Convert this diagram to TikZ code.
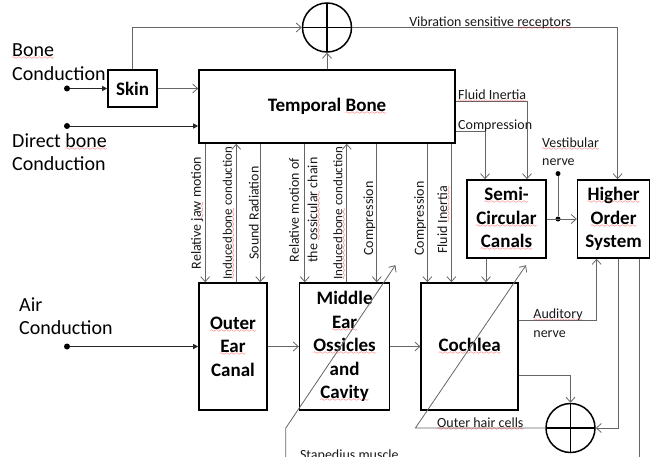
\documentclass[tikz,border=0pt]{standalone}
\usepackage{fontspec}
\setmainfont{Carlito}
\usepackage{tikz}
\usetikzlibrary{arrows.meta, positioning}
\font\wavefnt=lasy6
\newsavebox\splbox
\newcommand\spl[1]{\sbox\splbox{#1}%
  \rlap{\lower3pt\hbox to \wd\splbox{\color{red}\xleaders\hbox{\wavefnt\char58}\hfil}}\usebox\splbox}
\tikzset{
  blockbox/.style={rectangle, draw=black, line width=1.6pt, fill=white, align=center,
    font=\fontsize{19}{23.5}\selectfont\bfseries, inner sep=1pt},
  sumnode/.style={circle, draw=black, line width=1.5pt, fill=white, minimum size=49pt, inner sep=0pt,
    path picture={\draw[line width=1.5pt] (path picture bounding box.north) -- (path picture bounding box.south)
      (path picture bounding box.west) -- (path picture bounding box.east);}},
  inlabel/.style={align=left, font=\fontsize{20}{23.5}\selectfont, inner sep=0pt, anchor=west},
  siglabel/.style={font=\fontsize{14}{18.5}\selectfont, inner sep=1pt, text=black!90},
  vlabel/.style={siglabel, rotate=90, anchor=south},
  tightlabel/.style={vlabel, font=\fontsize{13}{16}\selectfont},
  indot/.style={circle, fill=black, inner sep=0pt, minimum size=6pt},
  line/.style={line width=0.8pt, black!60},
  arrow/.style={line, -{Straight Barb[length=5pt, width=9pt]}},
  feed/.style={line width=0.9pt, black!85, -{Triangle[length=5pt, width=5pt]}}
}
\begin{document}
\begin{tikzpicture}[x=1pt, y=-1pt, node distance=30pt, every node/.style={align=center}]
  \useasboundingbox (0,0) rectangle (650,457);
  % blocks
  \node[sumnode]  (sumtop)   at (327,27.5) {};
  \node[blockbox, minimum width=49pt, minimum height=37pt]  (skin)     at (132.5,88.5) {Skin};
  \node[blockbox, minimum width=256pt, minimum height=73pt] (temporal) at (327,106.5) {Temporal \spl{Bone}};
  \node[blockbox, minimum width=79pt, minimum height=78pt]  (semi)     at (506.5,219)
        {\spl{Semi-}\\\spl{Circular}\\\spl{Canals}};
  \node[blockbox, minimum width=72pt, minimum height=78pt, right=of semi] (higher)
        {\spl{Higher}\\\spl{Order}\\System};
  \node[blockbox, minimum width=68pt, minimum height=127pt] (outer)    at (233,346.5)
        {\spl{Outer}\\\spl{Ear}\\Canal};
  \node[blockbox, minimum width=90pt, minimum height=127pt, right=31pt of outer] (middle)
        {Middle\\\spl{Ear}\\\spl{Ossicles}\\and\\\spl{Cavity}};
  \node[blockbox, minimum width=97pt, minimum height=127pt, right=of middle] (cochlea) {\spl{Cochlea}};
  \node[sumnode]  (sumbot)   at (570.5,428) {};
  % inputs
  \node[indot] (bcin)  at (67,88.5) {};
  \node[indot] (dbcin) at (67,126) {};
  \node[indot] (acin)  at (67,346.5) {};
  \node[inlabel] (bclab)  at (12,62.3)  {\spl{Bone}\\Conduction};
  \node[inlabel] (dbclab) at (12,152.3) {Direct \spl{bone}\\Conduction};
  \node[inlabel] (aclab)  at (19,316)   {Air\\Conduction};
  \node[indot, minimum size=5pt] (vjunc) at (558,219) {};
  \node[indot, minimum size=5pt, above=40pt of vjunc] (vtop) {};
  \node[siglabel, align=left, anchor=south west] (vestlab) at ([xshift=-17, yshift=4]vtop.north)
        {\spl{Vestibular}\\nerve};
  \coordinate (ohcend)  at ([xshift=7, yshift=17]cochlea.north east);
  \coordinate (stapend) at ([xshift=5, yshift=17]middle.north east);
  \coordinate (stapbot) at ([xshift=-13, yshift=-60]middle.south west);
  \node[siglabel, anchor=base west] (staplab) at ([yshift=-49]middle.south west) {Stapedius muscle};
  % connectors
  \draw[feed]  (bcin)  -- (skin);
  \draw[feed]  (dbcin) -- (dbcin -| temporal.west);
  \draw[feed]  (acin)  -- (outer);
  \draw[arrow] (skin)  -- (temporal.west |- skin);
  \draw[arrow] (skin.north) |- (sumtop.west);
  \draw[arrow] (temporal.north) -- (sumtop.south);
  \draw[arrow] (sumtop.east) -| node[siglabel, pos=0.26, anchor=base, yshift=1pt]
        {Vibration sensitive \spl{receptors}} ([xshift=4]higher.north);
  \draw[arrow] ([yshift=5.5]temporal.east) -| node[siglabel, pos=0, anchor=base west, xshift=1pt, yshift=1pt]
        {\spl{Fluid Inertia}} ([xshift=20.5]semi.north);
  \draw[arrow] ([yshift=-24.5]temporal.east) -| node[siglabel, pos=0, anchor=base west, xshift=1pt, yshift=1pt]
        {Compression} ([xshift=-21.5]semi.north);
  \draw[arrow] (semi) -- (higher);
  \draw[line]  (vjunc) -- (vtop);
  \draw[arrow] ([xshift=7]outer.north west |- temporal.south) -- node[vlabel] {Relative \spl{jaw} motion}
        ([xshift=7]outer.north west);
  \draw[arrow] ([xshift=38]outer.north west) -- node[tightlabel] {\spl{Induced\kern1pt bone} conduction}
        ([xshift=38]outer.north west |- temporal.south);
  \draw[arrow] ([xshift=62]outer.north west |- temporal.south) -- node[vlabel] {Sound Radiation}
        ([xshift=62]outer.north west);
  \draw[arrow] ([xshift=6]middle.north west |- temporal.south) -- node[siglabel, rotate=90, pos=0.48]
        {Relative motion of\\the \spl{ossicular} chain} ([xshift=6]middle.north west);
  \draw[arrow] ([xshift=48]middle.north west) -- node[tightlabel] {\spl{Induced\kern1pt bone} conduction}
        ([xshift=48]middle.north west |- temporal.south);
  \draw[arrow] ([xshift=78]middle.north west |- temporal.south) -- node[vlabel, pos=0.54] {Compression}
        ([xshift=78]middle.north west);
  \draw[arrow] ([xshift=7]cochlea.north west |- temporal.south) -- node[vlabel, pos=0.54] {Compression}
        ([xshift=7]cochlea.north west);
  \draw[arrow] ([xshift=31]cochlea.north west |- temporal.south) -- node[vlabel, pos=0.55] {Fluid \spl{Inertia}}
        ([xshift=31]cochlea.north west);
  \draw[arrow] ([xshift=-20.5]semi.south) -- ([xshift=-20.5]semi.south |- cochlea.north);
  \draw[arrow] (outer)  -- (middle);
  \draw[arrow] (middle) -- (cochlea);
  \draw[arrow] ([yshift=26.5]cochlea.east) -| node[siglabel, pos=0, anchor=west, align=left, xshift=13pt, yshift=-3pt]
        {\spl{Auditory}\\nerve} ([xshift=-17]higher.south);
  \draw[arrow] ([yshift=-28.5]cochlea.east) -| (sumbot.north);
  \draw[arrow] ([xshift=5]higher.south) |- (sumbot.east);
  \draw[line]  ([xshift=26]higher.south) -- ++(0,220);
  \draw[arrow] (sumbot.west) -- node[siglabel, anchor=base, yshift=1pt] {\spl{Outer hair cells}}
        ([xshift=-5]cochlea.south west |- sumbot.west) -- (ohcend);
  \draw[arrow] (stapbot) -- (stapbot |- sumbot.west) -- (stapend);
\end{tikzpicture}
\end{document}
